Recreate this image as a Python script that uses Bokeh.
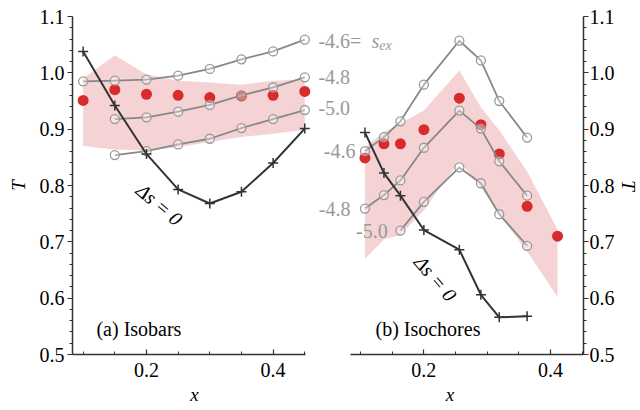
import math
from bokeh.plotting import figure
from bokeh.layouts import row
from bokeh.models import Range1d, FixedTicker, Label, PrintfTickFormatter
from bokeh.embed import file_html
from bokeh.resources import INLINE

# ---------------- data: panel (a) isobars ----------------
xa = [0.10, 0.15, 0.20, 0.25, 0.30, 0.35, 0.40, 0.45]
xa_short = [0.15, 0.20, 0.25, 0.30, 0.35, 0.40, 0.45]
a_s46 = [0.985, 0.986, 0.988, 0.995, 1.007, 1.024, 1.038, 1.059]
a_s48 = [0.918, 0.921, 0.931, 0.943, 0.960, 0.974, 0.992]
a_s50 = [0.854, 0.861, 0.873, 0.883, 0.902, 0.918, 0.934]
a_red = [0.951, 0.970, 0.962, 0.960, 0.956, 0.959, 0.960, 0.967]
a_band_hi = [0.990, 1.031, 0.997, 0.986, 0.983, 0.979, 0.986, 0.988]
a_band_lo = [0.870, 0.864, 0.862, 0.868, 0.877, 0.886, 0.892, 0.899]
a_ds0 = [1.038, 0.942, 0.856, 0.793, 0.768, 0.789, 0.840, 0.901]

# ---------------- data: panel (b) isochores ----------------
xb = [0.107, 0.137, 0.163, 0.200, 0.256, 0.290, 0.319, 0.363]
xb_short = [0.163, 0.200, 0.256, 0.290, 0.319, 0.363]
xb_red = [0.107, 0.137, 0.163, 0.200, 0.256, 0.290, 0.319, 0.363, 0.411]
b_s46 = [0.861, 0.886, 0.914, 0.979, 1.057, 1.022, 0.950, 0.885]
b_s48 = [0.759, 0.783, 0.809, 0.867, 0.933, 0.901, 0.843, 0.782]
b_s50 = [0.720, 0.771, 0.832, 0.804, 0.749, 0.693]
b_red = [0.849, 0.874, 0.874, 0.899, 0.955, 0.908, 0.856, 0.763, 0.710]
b_band_hi = [0.868, 0.895, 0.910, 0.933, 1.004, 0.939, 0.898, 0.825, 0.722]
b_band_lo = [0.670, 0.704, 0.712, 0.756, 0.843, 0.797, 0.748, 0.683, 0.602]
b_ds0 = [0.894, 0.822, 0.782, 0.721, 0.686, 0.606, 0.566, 0.568]

# ---------------- ticks ----------------
x_major = [0.2, 0.4]
x_minor = [0.1, 0.15, 0.25, 0.3, 0.35, 0.45]
y_major = [0.5, 0.6, 0.7, 0.8, 0.9, 1.0, 1.1]
y_minor = [0.52, 0.54, 0.56, 0.58, 0.62, 0.64, 0.66, 0.68, 0.72, 0.74, 0.76, 0.78,
           0.82, 0.84, 0.86, 0.88, 0.92, 0.94, 0.96, 0.98, 1.02, 1.04, 1.06, 1.08]

FONT = "'Liberation Serif'"
FS = "20px"
GRAY_LINE = "#888888"
GRAY_TEXT = "#999999"
RED = "#d92b2b"
BAND = "#f5d3d5"
DARK = "#333333"


def make_fig(x_range, frame_w, side, bl, br, bounds):
    p = figure(frame_width=frame_w, frame_height=338, x_range=x_range,
               y_range=Range1d(0.5, 1.1), output_backend="svg",
               toolbar_location=None, y_axis_location=side,
               min_border_left=bl, min_border_right=br,
               min_border_top=16, min_border_bottom=54)
    p.outline_line_color = None
    p.xgrid.visible = False
    p.ygrid.visible = False
    p.background_fill_color = "white"
    p.border_fill_color = "white"
    p.xaxis.bounds = bounds
    p.xaxis.ticker = FixedTicker(ticks=x_major, minor_ticks=x_minor)
    p.yaxis.ticker = FixedTicker(ticks=y_major, minor_ticks=y_minor)
    p.xaxis.formatter = PrintfTickFormatter(format="%.1f")
    p.yaxis.formatter = PrintfTickFormatter(format="%.1f")
    for ax in (p.xaxis, p.yaxis):
        ax.axis_line_color = DARK
        ax.axis_line_width = 1.5
        ax.major_tick_line_color = DARK
        ax.minor_tick_line_color = DARK
        ax.major_tick_line_width = 1.2
        ax.minor_tick_line_width = 1.0
        ax.major_label_text_font = FONT
        ax.major_label_text_font_size = FS
        ax.major_label_text_color = "black"
        ax.axis_label_text_font = FONT
        ax.axis_label_text_font_size = "19px"
        ax.axis_label_text_font_style = "italic"
        ax.axis_label_text_color = "black"
    p.xaxis.major_tick_in = 5
    p.xaxis.major_tick_out = 0
    p.xaxis.minor_tick_in = 3
    p.xaxis.minor_tick_out = 0
    p.yaxis.major_tick_in = 0
    p.yaxis.major_tick_out = 5
    p.yaxis.minor_tick_in = 0
    p.yaxis.minor_tick_out = 3
    p.xaxis.major_label_standoff = 8
    p.xaxis.axis_label_standoff = 4
    p.yaxis.major_label_standoff = 3
    p.xaxis.axis_label = "x"
    p.yaxis.axis_label = "T"
    return p


def gray_curve(p, x, y):
    p.line(x, y, line_color=GRAY_LINE, line_width=1.8)
    p.scatter(x, y, marker="circle", size=9, line_color="#999999",
              line_width=1.3, fill_color="white", fill_alpha=0.35)


def text_label(p, x, y, text, align="left", style="normal", size=FS, color="black", angle=0.0):
    p.add_layout(Label(x=x, y=y, text=text, text_align=align, text_baseline="middle",
                       text_font=FONT, text_font_size=size, text_font_style=style,
                       text_color=color, angle=angle))


# ---------------- panel (a) ----------------
pa = make_fig(Range1d(0.0832, 0.4685), 244, "left", 72, 0, (0.0832, 0.451))
pa.yaxis.axis_label_standoff = 8
pa.varea(x=xa, y1=a_band_lo, y2=a_band_hi, fill_color=BAND)
pa.scatter(xa, a_red, marker="circle", size=11, fill_color=RED, line_color=None)
gray_curve(pa, xa, a_s46)
gray_curve(pa, xa_short, a_s48)
gray_curve(pa, xa_short, a_s50)
pa.line(xa, a_ds0, line_color=DARK, line_width=2)
pa.scatter(xa, a_ds0, marker="cross", size=10, line_color=DARK, line_width=1.5)
text_label(pa, 0.2206, 0.7663, "Δs = 0", align="center", style="italic",
           angle=-40.4 * math.pi / 180)
text_label(pa, 0.121, 0.546, "(a) Isobars")

# ---------------- panel (b) ----------------
pb = make_fig(Range1d(0.0305, 0.452), 267, "right", 0, 57, (0.084, 0.452))
pb.yaxis.major_label_standoff = 1
pb.yaxis.axis_label_standoff = 0
pb.varea(x=xb_red, y1=b_band_lo, y2=b_band_hi, fill_color=BAND)
pb.scatter(xb_red, b_red, marker="circle", size=11, fill_color=RED, line_color=None)
gray_curve(pb, xb, b_s46)
gray_curve(pb, xb, b_s48)
gray_curve(pb, xb_short, b_s50)
pb.line(xb, b_ds0, line_color=DARK, line_width=2)
pb.scatter(xb, b_ds0, marker="cross", size=10, line_color=DARK, line_width=1.5)
text_label(pb, 0.2184, 0.6349, "Δs = 0", align="center", style="italic",
           angle=-49.4 * math.pi / 180)
text_label(pb, 0.1236, 0.546, "(b) Isochores")

# isobar labels (sit in the gap between the panels)
text_label(pb, 0.0336, 1.057, "-4.6=", color=GRAY_TEXT)
text_label(pb, 0.1173, 1.057, "s", style="italic", color=GRAY_TEXT)
text_label(pb, 0.1295, 1.049, "ex", style="italic", size="14px", color=GRAY_TEXT)
text_label(pb, 0.0336, 0.992, "-4.8", color=GRAY_TEXT)
text_label(pb, 0.0336, 0.937, "-5.0", color=GRAY_TEXT)
# isochore labels
text_label(pb, 0.092, 0.862, "-4.6", align="right", color=GRAY_TEXT)
text_label(pb, 0.084, 0.759, "-4.8", align="right", color=GRAY_TEXT)
text_label(pb, 0.143, 0.720, "-5.0", align="right", color=GRAY_TEXT)

layout = row(pa, pb)
open("out.html", "w").write(file_html(layout, INLINE))
